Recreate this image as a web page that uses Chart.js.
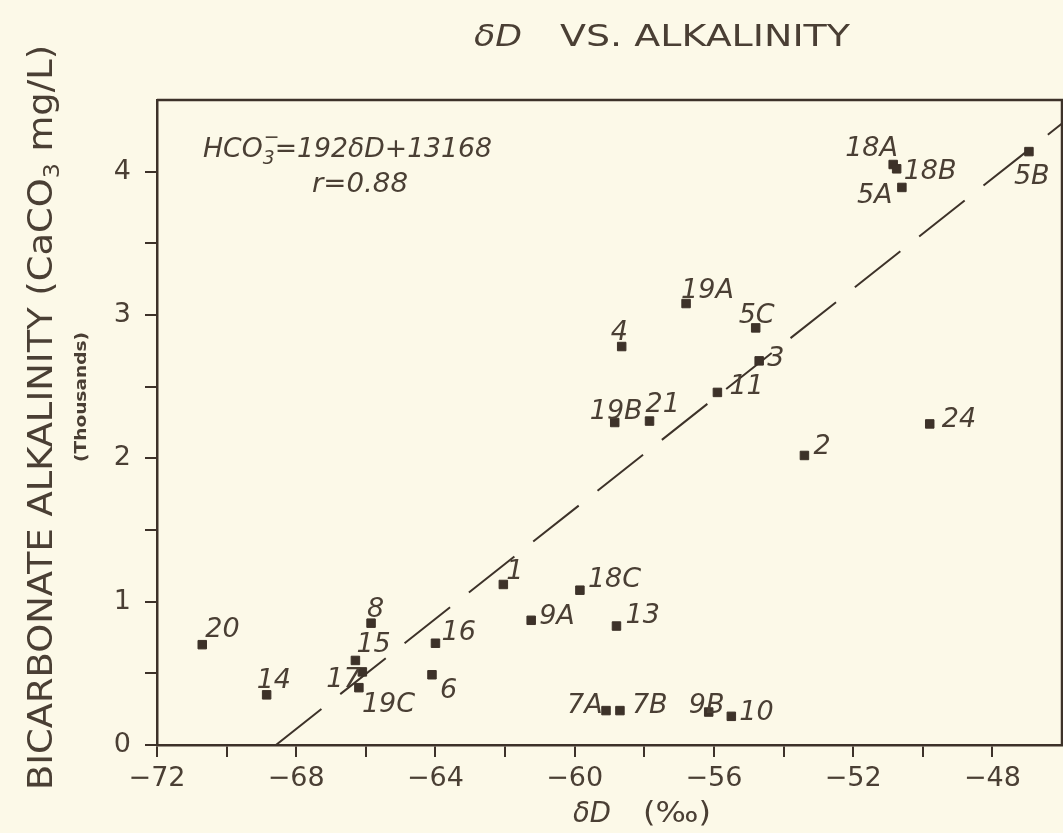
<!DOCTYPE html>
<html>
<head>
<meta charset="utf-8">
<title>δD vs. Alkalinity</title>
<script src="https://cdn.jsdelivr.net/npm/chart.js@4.4.1/dist/chart.umd.min.js"></script>
<style>
  html, body { margin: 0; padding: 0; background: #fcf9e8; }
  #wrap { width: 1063px; height: 833px; position: relative; }
  canvas { display: block; }
</style>
</head>
<body>
<div id="wrap"><canvas id="chart" width="1063" height="833"></canvas></div>
<script>
// Sample sites, deuterium values (permil) and bicarbonate alkalinity (thousands of mg/L as CaCO3)
const siteLabels = ['20', '14', '15', '17', '19C', '8', '16', '6', '1', '9A', '18C', '13', '7A', '7B', '9B', '10',
                    '18A', '18B', '5A', '5B', '19A', '5C', '4', '3', '11', '19B', '21', '2', '24'];
const deltaD = [-70.7, -68.85, -66.3, -66.1, -66.2, -65.85, -64.0, -64.1, -62.05, -61.25, -59.85, -58.8, -59.1, -58.7, -56.15, -55.5,
                -50.85, -50.75, -50.6, -46.95, -56.8, -54.8, -58.65, -54.7, -55.9, -58.85, -57.85, -53.4, -49.8];
const alkalinity = [0.70, 0.35, 0.59, 0.51, 0.40, 0.85, 0.71, 0.49, 1.12, 0.87, 1.08, 0.83, 0.24, 0.24, 0.23, 0.20,
                    4.05, 4.02, 3.89, 4.14, 3.08, 2.91, 2.78, 2.68, 2.46, 2.25, 2.26, 2.02, 2.24];

// Least-squares fit: HCO3 (mg/L) = 192 * δD + 13168
const fitSlope = 192;
const fitIntercept = 13168;
const fitR = '0.88';

// Axis ranges and tick labels
const xMin = -72, xMax = -46;
const yMin = 0, yMax = 4.5;
const xTickValues = [-72, -68, -64, -60, -56, -52, -48];
const xTickLabels = ['\u221272', '\u221268', '\u221264', '\u221260', '\u221256', '\u221252', '\u221248'];
const yTickValues = [0, 1, 2, 3, 4];
const yTickLabels = ['0', '1', '2', '3', '4'];

// Where each site label sits relative to its marker (px)
const labelOffset = {
  '20': [3, -8], '14': [-10, -7], '15': [1, -8], '17': [-36, 15], '19C': [3, 24], '8': [-4, -6],
  '16': [6, -3], '6': [8, 23], '1': [3, -5], '9A': [8, 4], '18C': [8, -3], '13': [9, -3],
  '7A': [-39, 2], '7B': [12, 2], '9B': [-20, 1], '10': [8, 4], '18A': [-48, -9], '18B': [7, 10],
  '5A': [-45, 16], '5B': [-15, 32], '19A': [-5, -6], '5C': [-17, -5], '4': [-11, -7], '3': [8, 5],
  '11': [12, 2], '19B': [-25, -4], '21': [-4, -9], '2': [9, -1], '24': [12, 3]
};

const paper = '#fcf9e8';
const ink = '#3d3229';
const inkText = '#4a3f34';
const FONT = '"DejaVu Sans", "Liberation Sans", sans-serif';

const points = deltaD.map((d, i) => ({ x: d, y: alkalinity[i] }));
const fitStart = -fitIntercept / fitSlope;
const fitLine = [fitStart, xMax].map(d => ({ x: d, y: (fitSlope * d + fitIntercept) / 1000 }));

// Draw text squeezed or spread to a given width
function spanText(ctx, text, x, y, width) {
  const natural = ctx.measureText(text).width;
  ctx.save();
  ctx.translate(x, y);
  if (width) ctx.scale(width / natural, 1);
  ctx.fillText(text, 0, 0);
  ctx.restore();
}

// A run of text pieces with their own fonts and vertical shifts, fitted to a width
function drawRun(ctx, parts, x, y, width) {
  let total = 0;
  parts.forEach(p => { ctx.font = p.font; p.w = p.adv !== undefined ? p.adv : ctx.measureText(p.text).width; total += p.w; });
  const k = width ? width / total : 1;
  ctx.save();
  ctx.translate(x, y);
  ctx.scale(k, 1);
  let cx = 0;
  parts.forEach(p => {
    ctx.font = p.font;
    ctx.fillText(p.text, cx + (p.dx || 0), p.dy || 0);
    cx += p.w;
  });
  ctx.restore();
}

const paperPlugin = {
  id: 'paperText',
  beforeDraw(chart) {
    const { ctx, width, height } = chart;
    ctx.save();
    ctx.fillStyle = paper;
    ctx.fillRect(0, 0, width, height);
    ctx.restore();
  },
  afterDraw(chart) {
    const { ctx, chartArea: a, scales: { x, y } } = chart;
    ctx.save();

    // top and right edges of the frame
    ctx.strokeStyle = ink;
    ctx.lineWidth = 2.5;
    ctx.beginPath();
    ctx.moveTo(a.left, a.top);
    ctx.lineTo(a.right, a.top);
    ctx.lineTo(a.right, a.bottom);
    ctx.stroke();

    ctx.fillStyle = inkText;
    ctx.textAlign = 'left';
    ctx.textBaseline = 'alphabetic';

    // site labels
    ctx.font = 'italic 27px ' + FONT;
    siteLabels.forEach((lab, i) => {
      const px = x.getPixelForValue(deltaD[i]);
      const py = y.getPixelForValue(alkalinity[i]);
      const o = labelOffset[lab];
      ctx.fillText(lab, px + o[0], py + o[1]);
    });

    // title
    ctx.font = 'italic 30px ' + FONT;
    spanText(ctx, '\u03B4D', 474, 46, 48);
    ctx.font = '30px ' + FONT;
    spanText(ctx, 'VS. ALKALINITY', 560, 46, 290);

    // regression equation
    const it = 'italic 27px ' + FONT;
    const sm = 'italic 19px ' + FONT;
    drawRun(ctx, [
      { text: 'HCO', font: it },
      { text: '3', font: sm, dy: 7 },
      { text: '\u2212', font: sm, dy: -14, dx: -11, adv: 0 },
      { text: '=192\u03B4D+13168', font: it }
    ], 203, 157, 289);
    ctx.font = it;
    spanText(ctx, 'r=' + fitR, 312, 192, 96);

    // x-axis title
    ctx.font = 'italic 29px ' + FONT;
    spanText(ctx, '\u03B4D', 573, 822, 38);
    ctx.font = '29px ' + FONT;
    spanText(ctx, '(\u2030)', 643, 822, 68);

    // y-axis title
    ctx.save();
    ctx.translate(52, 790);
    ctx.rotate(-Math.PI / 2);
    const big = '34px ' + FONT;
    const sub = '22px ' + FONT;
    drawRun(ctx, [
      { text: 'BICARBONATE ALKALINITY (CaCO', font: big },
      { text: '3', font: sub, dy: 7 },
      { text: ' mg/L)', font: big }
    ], 0, 0, 745);
    ctx.font = 'bold 16px ' + FONT;
    spanText(ctx, '(Thousands)', 328, 34, 130);
    ctx.restore();

    ctx.restore();
  }
};

const tickGrid = {
  display: true,
  drawOnChartArea: false,
  drawTicks: true,
  tickLength: 12,
  color: ink,
  lineWidth: 2
};

new Chart(document.getElementById('chart'), {
  type: 'scatter',
  data: {
    datasets: [
      {
        type: 'line',
        data: fitLine,
        borderColor: ink,
        borderWidth: 2,
        borderDash: [58, 24],
        pointRadius: 0,
        fill: false,
        order: 2
      },
      {
        data: points,
        pointStyle: 'rect',
        pointRadius: 6,
        backgroundColor: ink,
        borderColor: ink,
        borderWidth: 1,
        order: 1
      }
    ]
  },
  options: {
    responsive: false,
    devicePixelRatio: 1,
    animation: false,
    layout: { autoPadding: false, padding: { top: 100, right: 1, left: 0, bottom: 0 } },
    plugins: { legend: { display: false }, tooltip: { enabled: false }, title: { display: false } },
    scales: {
      x: {
        type: 'linear',
        min: xMin,
        max: xMax,
        afterBuildTicks(scale) {
          const t = [];
          for (let v = xMin; v <= xMax - 2; v += 2) t.push({ value: v });
          scale.ticks = t;
        },
        afterFit(scale) {
          scale.height = 88;
          scale.paddingLeft = 0;
          scale.paddingRight = 0;
        },
        grid: tickGrid,
        border: { display: true, color: ink, width: 2.5 },
        ticks: {
          color: inkText,
          font: { family: FONT, size: 27 },
          padding: 6,
          maxRotation: 0,
          autoSkip: false,
          callback(v) {
            const i = xTickValues.indexOf(v);
            return i >= 0 ? xTickLabels[i] : '';
          }
        }
      },
      y: {
        type: 'linear',
        min: yMin,
        max: yMax,
        afterBuildTicks(scale) {
          const t = [];
          for (let v = 0; v <= 4; v += 0.5) t.push({ value: v });
          scale.ticks = t;
        },
        afterFit(scale) {
          scale.width = 157;
          scale.paddingTop = 0;
          scale.paddingBottom = 0;
        },
        grid: tickGrid,
        border: { display: true, color: ink, width: 2.5 },
        ticks: {
          color: inkText,
          font: { family: FONT, size: 27 },
          padding: 14,
          autoSkip: false,
          callback(v) {
            const i = yTickValues.indexOf(v);
            return i >= 0 ? yTickLabels[i] : '';
          }
        }
      }
    }
  },
  plugins: [paperPlugin]
});
</script>
</body>
</html>
